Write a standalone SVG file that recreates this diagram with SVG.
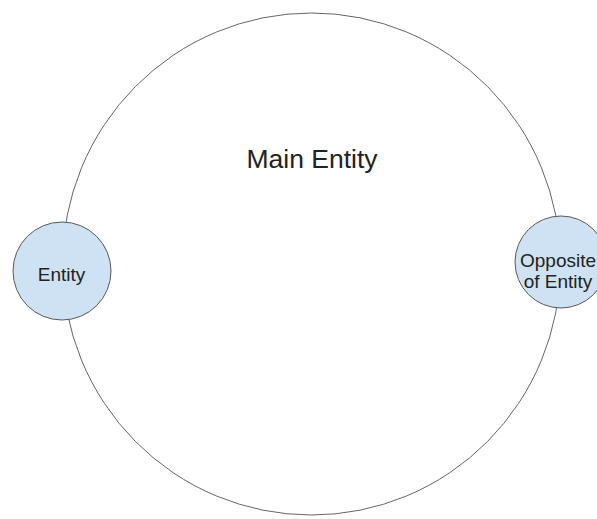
<svg xmlns="http://www.w3.org/2000/svg" width="597" height="519" viewBox="0 0 597 519">
<style>
.big{fill:#ffffff;stroke:#666666;stroke-width:1}
.node{fill:#cfe2f3;stroke:#595959;stroke-width:1}
text{font-family:"Liberation Sans",Arial,sans-serif;fill:#222222;text-anchor:middle}
.main{font-size:26.5px}
.lbl{font-size:19px}
</style>
<rect width="597" height="519" fill="#ffffff"/>
<g id="main-entity">
<ellipse class="big" cx="311.5" cy="264" rx="249" ry="251"/>
<text class="main" x="312" y="168">Main Entity</text>
</g>
<g id="entity">
<circle class="node" cx="62" cy="271" r="49"/>
<text class="lbl" x="61.5" y="281">Entity</text>
</g>
<g id="opposite-entity">
<circle class="node" cx="561" cy="262" r="46"/>
<text class="lbl" x="558" y="267">Opposite</text>
<text class="lbl" x="558" y="288">of Entity</text>
</g>
</svg>
